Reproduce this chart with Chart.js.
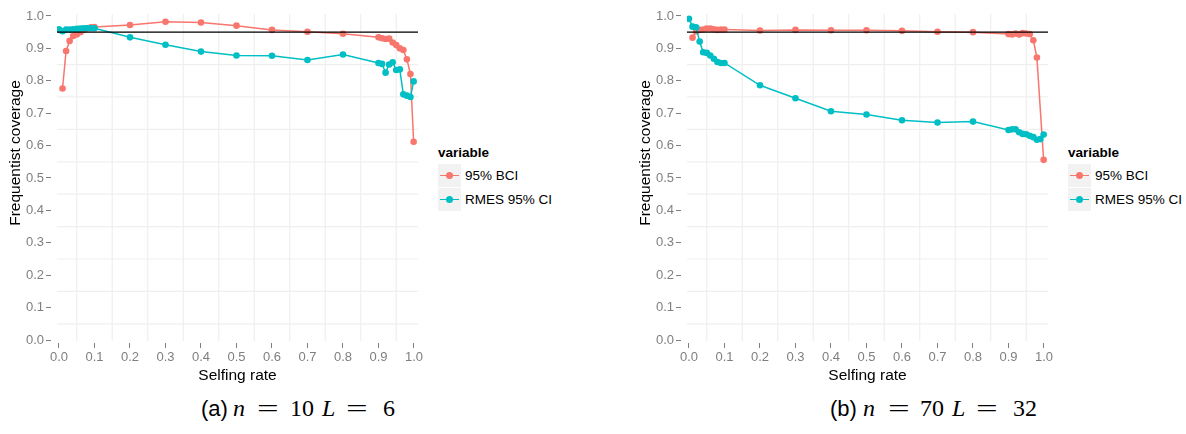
<!DOCTYPE html>
<html lang="en">
<head>
<meta charset="UTF-8" />
<title>Frequentist coverage vs selfing rate</title>
<script src="https://cdn.jsdelivr.net/npm/chart.js"></script>
<style>
  * { margin: 0; padding: 0; box-sizing: border-box; }
  body {
    width: 1186px;
    height: 434px;
    background: #ffffff;
    font-family: 'Liberation Sans', Arial, sans-serif;
    position: relative;
    overflow: hidden;
  }
  canvas { position: absolute; top: 0; }
  .legend { position: absolute; top: 145px; font-size: 13.5px; color: #000; }
  .legend h3 { font-size: 13.5px; line-height: 16px; font-weight: bold; margin-bottom: 2px; }
  .key-row { display: flex; align-items: center; height: 24px; }
  .key { position: relative; width: 23px; height: 23px; background: #f2f2f2; margin-right: 4px; }
  .key::before {
    content: ''; position: absolute; left: 2px; right: 2px; top: 11px; height: 1.5px; background: var(--c);
  }
  .key::after {
    content: ''; position: absolute; left: 8px; top: 8px; width: 7px; height: 7px; border-radius: 50%; background: var(--c);
  }
  .caption { position: absolute; top: 394px; font-size: 24px; white-space: pre; color: #000; }
  .caption span { display: inline-block; }
  .caption .sf { font-family: 'Liberation Sans', sans-serif; font-size: 22px; }
  .caption .rm { font-family: 'Liberation Serif', serif; }
  .caption .it { font-family: 'Liberation Serif', serif; font-style: italic; }
  .caption .eq { transform: scaleX(1.6); transform-origin: 0 50%; }
</style>
</head>
<body>
  <canvas id="chartA" width="430" height="390" style="left:0"></canvas>
  <canvas id="chartB" width="430" height="390" style="left:630px"></canvas>

  <div class="legend" style="left:438px">
    <h3>variable</h3>
    <div class="key-row"><span class="key" style="--c:#F8766D"></span>95% BCI</div>
    <div class="key-row"><span class="key" style="--c:#00BFC4"></span>RMES 95% CI</div>
  </div>
  <div class="legend" style="left:1068px">
    <h3>variable</h3>
    <div class="key-row"><span class="key" style="--c:#F8766D"></span>95% BCI</div>
    <div class="key-row"><span class="key" style="--c:#00BFC4"></span>RMES 95% CI</div>
  </div>

  <div class="caption" style="left:201px"><span class="sf" style="width:32px">(a)</span><span class="it" style="width:24px">n</span><span class="rm eq" style="width:33px">=</span><span class="rm" style="width:32px">10</span><span class="it" style="width:24px">L</span><span class="rm eq" style="width:37px">=</span><span class="rm">6</span></div>
  <div class="caption" style="left:830px"><span class="sf" style="width:33px">(b)</span><span class="it" style="width:25px">n</span><span class="rm eq" style="width:32px">=</span><span class="rm" style="width:32px">70</span><span class="it" style="width:24px">L</span><span class="rm eq" style="width:37px">=</span><span class="rm">32</span></div>

<script>
// selfing rates shared by every series
const selfingRate = [0, 0.01, 0.02, 0.03, 0.04, 0.05, 0.06, 0.07, 0.08, 0.09, 0.1,
  0.2, 0.3, 0.4, 0.5, 0.6, 0.7, 0.8,
  0.9, 0.91, 0.92, 0.93, 0.94, 0.95, 0.96, 0.97, 0.98, 0.99, 0.999];

// (a) n = 10, L = 6
const bciA = [null, 0.776, 0.892, 0.923, 0.938, 0.943, 0.950, 0.957, 0.962, 0.965, 0.966,
  0.972, 0.982, 0.980, 0.970, 0.957, 0.951, 0.945,
  0.934, 0.931, 0.929, 0.930, 0.918, 0.910, 0.900, 0.895, 0.866, 0.821, 0.612];
const rmesA = [0.959, 0.953, 0.958, 0.958, 0.959, 0.960, 0.961, 0.962, 0.962, 0.962, 0.962,
  0.934, 0.911, 0.890, 0.878, 0.877, 0.864, 0.881,
  0.855, 0.852, 0.825, 0.850, 0.857, 0.833, 0.835, 0.758, 0.754, 0.750, 0.798];

// (b) n = 70, L = 32
const bciB = [null, 0.933, 0.952, 0.957, 0.958, 0.961, 0.961, 0.959, 0.957, 0.958, 0.958,
  0.955, 0.957, 0.956, 0.956, 0.954, 0.951, 0.950,
  0.944, 0.943, 0.946, 0.943, 0.947, 0.946, 0.944, 0.925, 0.872, null, 0.556];
const rmesB = [0.991, 0.967, 0.965, 0.921, 0.888, 0.886, 0.878, 0.868, 0.858, 0.855, 0.855,
  0.786, 0.746, 0.706, 0.696, 0.678, 0.671, 0.674,
  0.648, 0.650, 0.650, 0.641, 0.636, 0.635, 0.630, 0.626, 0.618, 0.620, 0.634];

const breaks = [0, 0.1, 0.2, 0.3, 0.4, 0.5, 0.6, 0.7, 0.8, 0.9, 1.0];
const minorBreaks = [0.05, 0.15, 0.25, 0.35, 0.45, 0.55, 0.65, 0.75, 0.85, 0.95];
const target = 0.95;

const RED = '#F8766D';
const TEAL = '#00BFC4';
const GREY = '#7f7f7f';
const FONT = "'Liberation Sans', Arial, sans-serif";

// light grid between the breaks, the nominal 95% line, and the y title
const panelLines = {
  id: 'panelLines',
  beforeDatasetsDraw(chart) {
    const { ctx, chartArea: a, scales: { x, y } } = chart;
    ctx.save();
    ctx.strokeStyle = '#efefef';
    ctx.lineWidth = 1.2;
    minorBreaks.forEach(v => {
      const px = x.getPixelForValue(v);
      ctx.beginPath(); ctx.moveTo(px, a.top); ctx.lineTo(px, a.bottom); ctx.stroke();
      const py = y.getPixelForValue(v);
      ctx.beginPath(); ctx.moveTo(a.left, py); ctx.lineTo(a.right, py); ctx.stroke();
    });
    ctx.restore();
  },
  afterDatasetsDraw(chart) {
    const { ctx, chartArea: a, scales: { y } } = chart;
    const py = y.getPixelForValue(target);
    ctx.save();
    ctx.strokeStyle = '#000';
    ctx.lineWidth = 1.3;
    ctx.beginPath(); ctx.moveTo(a.left, py); ctx.lineTo(a.right, py); ctx.stroke();
    // y axis title, sitting a little above the panel centre as in the source
    ctx.translate(16, 153);
    ctx.rotate(-Math.PI / 2);
    ctx.font = '15.5px ' + FONT;
    ctx.fillStyle = '#000';
    ctx.textAlign = 'center';
    ctx.textBaseline = 'middle';
    ctx.fillText('Frequentist coverage', 0, 0);
    ctx.restore();
  }
};

function series(label, values, color, order) {
  return {
    label,
    data: selfingRate.map((x, i) => ({ x, y: values[i] })),
    borderColor: color,
    backgroundColor: color,
    borderWidth: 1.5,
    pointRadius: 3.3,
    pointBorderWidth: 0,
    pointHoverRadius: 3.3,
    spanGaps: true,
    order
  };
}

function makePanel(id, bci, rmes) {
  new Chart(document.getElementById(id), {
    type: 'line',
    data: {
      datasets: [
        series('95% BCI', bci, RED, 1),
        series('RMES 95% CI', rmes, TEAL, 0)
      ]
    },
    options: {
      responsive: false,
      animation: false,
      layout: { padding: { top: 14, right: 12, bottom: 0, left: 0 } },
      plugins: { legend: { display: false }, tooltip: { enabled: false } },
      scales: {
        x: {
          type: 'linear',
          min: -0.0056,
          max: 1.0113,
          afterBuildTicks: s => { s.ticks = breaks.map(v => ({ value: v })); },
          afterFit: s => { s.height = 49; },
          border: { display: false },
          grid: {
            drawOnChartArea: false, drawTicks: true, tickLength: 7,
            tickColor: GREY, tickWidth: 1, tickBorderDash: [5, 2], tickBorderDashOffset: 5
          },
          ticks: {
            callback: v => v.toFixed(1), color: GREY, padding: 2,
            font: { family: FONT, size: 13 }, maxRotation: 0, autoSkip: false
          },
          title: {
            display: true, text: 'Selfing rate', color: '#000',
            font: { family: FONT, size: 15.5 }, padding: { top: 0, bottom: 5 }
          }
        },
        y: {
          type: 'linear',
          min: -0.003,
          max: 1.006,
          afterBuildTicks: s => { s.ticks = breaks.map(v => ({ value: v })); },
          afterFit: s => { s.width = 57; },
          border: { display: false },
          grid: {
            drawOnChartArea: false, drawTicks: true, tickLength: 11,
            tickColor: GREY, tickWidth: 1, tickBorderDash: [5, 6]
          },
          ticks: {
            callback: v => v.toFixed(1), color: GREY, padding: 2,
            font: { family: FONT, size: 13 }
          }
        }
      }
    },
    plugins: [panelLines]
  });
}

makePanel('chartA', bciA, rmesA);
makePanel('chartB', bciB, rmesB);
</script>
</body>
</html>
